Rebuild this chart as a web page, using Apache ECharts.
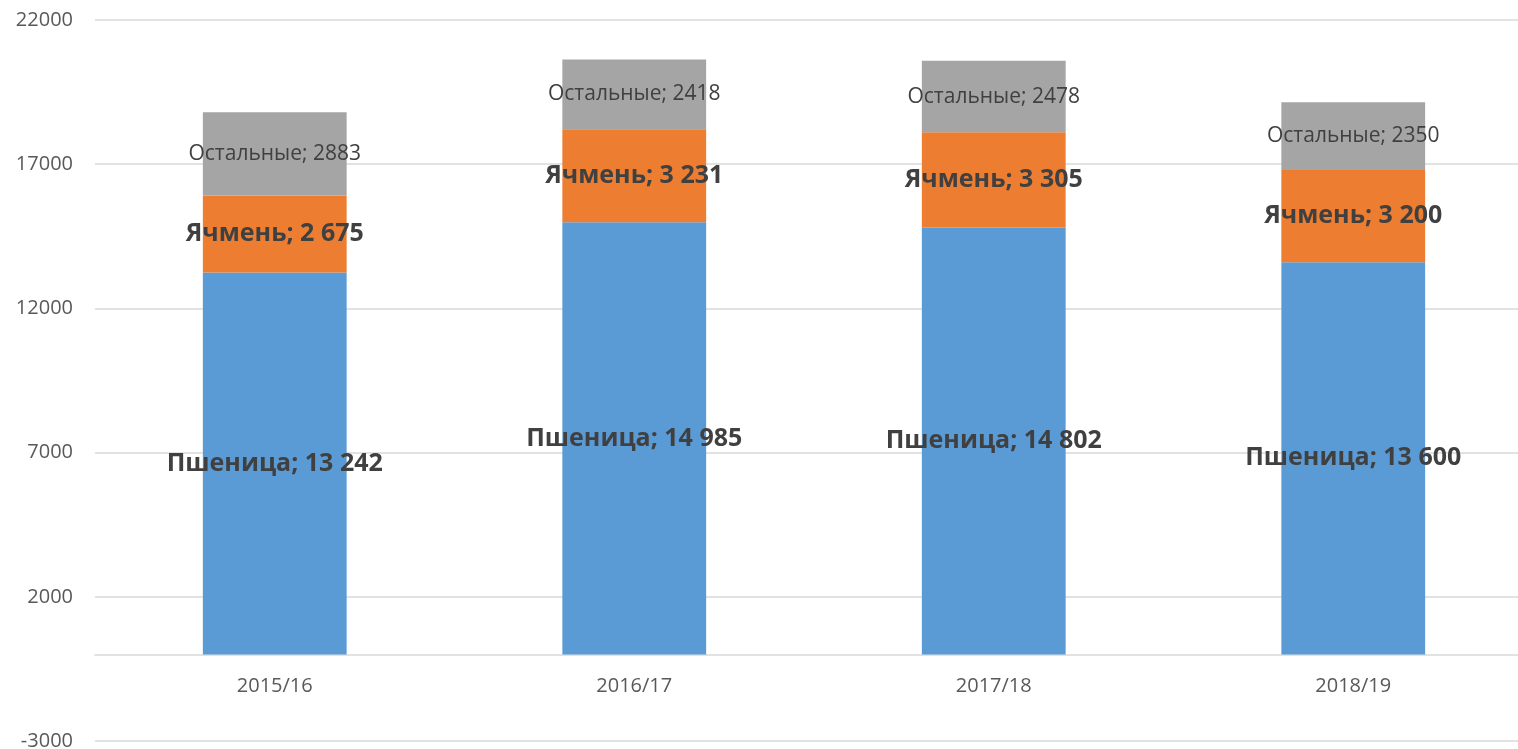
<!DOCTYPE html>
<html>
<head>
<meta charset="utf-8">
<script src="https://cdn.jsdelivr.net/npm/echarts@6/dist/echarts.min.js"></script>
<style>
  html, body { margin: 0; padding: 0; background: #fff; }
  #chart { width: 1518px; height: 749px; }
</style>
</head>
<body>
<div id="chart"></div>
<script>
// data
const years = ['2015/16', '2016/17', '2017/18', '2018/19'];
const wheat = [13242, 14985, 14802, 13600];
const barley = [2675, 3231, 3305, 3200];
const others = [2883, 2418, 2478, 2350];

const FONT = '"Open Sans", "Noto Sans", sans-serif';

// "13 242" style thousands separator
const spaced = (v) => String(v).replace(/\B(?=(\d{3})+(?!\d))/g, ' ');

const chart = echarts.init(document.getElementById('chart'));

const boldLabel = {
  show: true,
  position: 'inside',
  color: '#404040',
  fontFamily: FONT,
  fontWeight: 'bold',
  fontSize: 25
};

chart.setOption({
  animation: false,
  grid: {
    left: 95, top: 20, width: 1438, height: 721,
    containLabel: false, outerBoundsMode: 'none'
  },
  xAxis: {
    type: 'category',
    data: years,
    axisLine: { onZero: true, lineStyle: { color: '#D9D9D9', width: 1.5 } },
    axisTick: { show: false },
    // labels sit just under the zero line, not at the grid bottom
    axisLabel: { color: '#595959', fontFamily: FONT, fontSize: 20, margin: -65 }
  },
  yAxis: {
    type: 'value',
    min: -3000,
    max: 22000,
    interval: 5000,
    axisLine: { show: false },
    axisTick: { show: false },
    axisLabel: {
      color: '#595959', fontFamily: FONT, fontSize: 20, margin: 22,
      formatter: (v) => String(v)
    },
    splitLine: { lineStyle: { color: '#D9D9D9', width: 1.5 } }
  },
  series: [
    {
      name: 'Пшеница',
      type: 'bar',
      stack: 'total',
      barWidth: '40%',
      data: wheat,
      itemStyle: { color: '#5B9BD5' },
      label: { ...boldLabel, formatter: (p) => 'Пшеница; ' + spaced(p.value) }
    },
    {
      name: 'Ячмень',
      type: 'bar',
      stack: 'total',
      data: barley,
      itemStyle: { color: '#ED7D31' },
      label: { ...boldLabel, formatter: (p) => 'Ячмень; ' + spaced(p.value) }
    },
    {
      name: 'Остальные',
      type: 'bar',
      stack: 'total',
      data: others,
      itemStyle: { color: '#A5A5A5' },
      label: {
        show: true,
        position: 'inside',
        color: '#404040',
        fontFamily: FONT,
        fontSize: 21,
        formatter: (p) => 'Остальные; ' + p.value
      }
    }
  ]
});
</script>
</body>
</html>
